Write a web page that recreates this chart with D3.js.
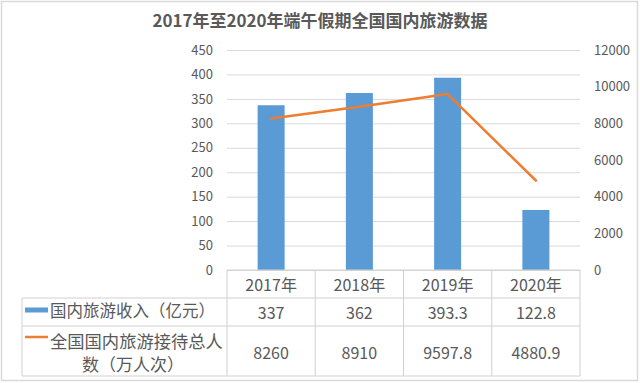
<!DOCTYPE html>
<html><head><meta charset="utf-8">
<script src="https://cdn.jsdelivr.net/npm/d3@7"></script>
<style>
html,body{margin:0;padding:0;background:#fff;}
text{font-family:"Noto Sans CJK SC","Noto Sans",sans-serif;fill:#595959;}
</style></head>
<body>
<svg id="c" width="640" height="383"></svg>
<script>
const title = "2017年至2020年端午假期全国国内旅游数据";
const years = ["2017年","2018年","2019年","2020年"];
const income = [337, 362, 393.3, 122.8];
const visitors = [8260, 8910, 9597.8, 4880.9];
const incomeLabels = ["337","362","393.3","122.8"];
const visitorLabels = ["8260","8910","9597.8","4880.9"];
const leftTicks = [0,50,100,150,200,250,300,350,400,450];
const rightTicks = [0,2000,4000,6000,8000,10000,12000];
const seriesNames = ["国内旅游收入（亿元）", "全国国内旅游接待总人", "数（万人次）"];

const svg = d3.select("#c");
const L = 227, R = 580, T = 50, B = 270;
const tableLeft = 22, rowY = [270, 298, 326, 376];
const barColor = "#5B9BD5", lineColor = "#ED7D31", gridColor = "#d9d9d9";

// outer border
svg.append("rect").attr("x",1.5).attr("y",1.5).attr("width",636).attr("height",379)
  .attr("fill","#fff").attr("stroke","#d9d9d9").attr("stroke-width",1.5);

const x = d3.scaleBand().domain(years).range([L, R]).padding(0);
const yL = d3.scaleLinear().domain([0,450]).range([B, T]);
const yR = d3.scaleLinear().domain([0,12000]).range([B, T]);

// gridlines
const grid = svg.append("g").attr("transform",`translate(${L},0)`)
  .call(d3.axisLeft(yL).tickValues(leftTicks).tickSize(-(R-L)).tickFormat(""));
grid.select(".domain").remove();
grid.selectAll("line").attr("stroke",gridColor).attr("stroke-width",1);

// left axis labels
const ax = svg.append("g").attr("transform",`translate(${L},0)`)
  .call(d3.axisLeft(yL).tickValues(leftTicks).tickSize(0).tickPadding(14).tickFormat(d3.format("d")));
ax.select(".domain").remove();
ax.selectAll("text").attr("font-size","13px").style("font-family",'"Noto Sans CJK SC",sans-serif').attr("fill","#595959");

// right axis labels
const ar = svg.append("g").attr("transform",`translate(${R},0)`)
  .call(d3.axisRight(yR).tickValues(rightTicks).tickSize(0).tickPadding(14).tickFormat(d3.format("d")));
ar.select(".domain").remove();
ar.selectAll("text").attr("font-size","13px").style("font-family",'"Noto Sans CJK SC",sans-serif').attr("fill","#595959");

// bars
const barW = 27;
svg.append("g").selectAll("rect").data(years).join("rect")
  .attr("x", d => x(d) + (x.bandwidth()-barW)/2)
  .attr("width", barW)
  .attr("y", (d,i) => yL(income[i]))
  .attr("height", (d,i) => yL(0) - yL(income[i]))
  .attr("fill", barColor);

// line
const line = d3.line().x((d,i) => x(years[i]) + x.bandwidth()/2).y(d => yR(d));
svg.append("path").datum(visitors).attr("d", line)
  .attr("fill","none").attr("stroke",lineColor).attr("stroke-width",2.5)
  .attr("stroke-linejoin","round").attr("stroke-linecap","round");

// table
const tg = svg.append("g").attr("stroke","#d0d0d0").attr("stroke-width",1);
tg.append("line").attr("x1",L).attr("x2",R).attr("y1",rowY[0]).attr("y2",rowY[0]);
[1,2,3].forEach(k => tg.append("line").attr("x1",tableLeft).attr("x2",R).attr("y1",rowY[k]).attr("y2",rowY[k]));
tg.append("line").attr("x1",tableLeft).attr("x2",tableLeft).attr("y1",rowY[1]).attr("y2",rowY[3]);
const cols = years.map(d => x(d)).concat([R]);
cols.forEach(cx => tg.append("line").attr("x1",cx).attr("x2",cx).attr("y1",rowY[0]).attr("y2",rowY[3]));

const fs = "16px";
const cellText = (txt, cx, cy, anchor) => svg.append("text").attr("x",cx).attr("y",cy)
  .attr("text-anchor",anchor||"middle").attr("dominant-baseline","central")
  .attr("font-size",fs).text(txt);

years.forEach((d,i) => {
  const cx = x(d) + x.bandwidth()/2;
  cellText(d, cx, 284);
  cellText(incomeLabels[i], cx, 311.5);
  cellText(visitorLabels[i], cx, 351.5);
});

// legend keys
svg.append("rect").attr("x",25).attr("y",307.5).attr("width",23).attr("height",5).attr("fill",barColor);
svg.append("line").attr("x1",25).attr("x2",48).attr("y1",337).attr("y2",337)
  .attr("stroke",lineColor).attr("stroke-width",2.5);
cellText(seriesNames[0], 50, 310, "start").attr("font-size","16.5px");
cellText(seriesNames[1], 50, 340, "start").attr("font-size","17.3px");
cellText(seriesNames[2], 133, 363, "middle").attr("font-size","17px");

// title
svg.append("text").attr("x",320).attr("y",27).attr("text-anchor","middle")
  .attr("font-size","17px").attr("font-weight","bold").attr("fill","#595959").text(title);
</script>
</body></html>
